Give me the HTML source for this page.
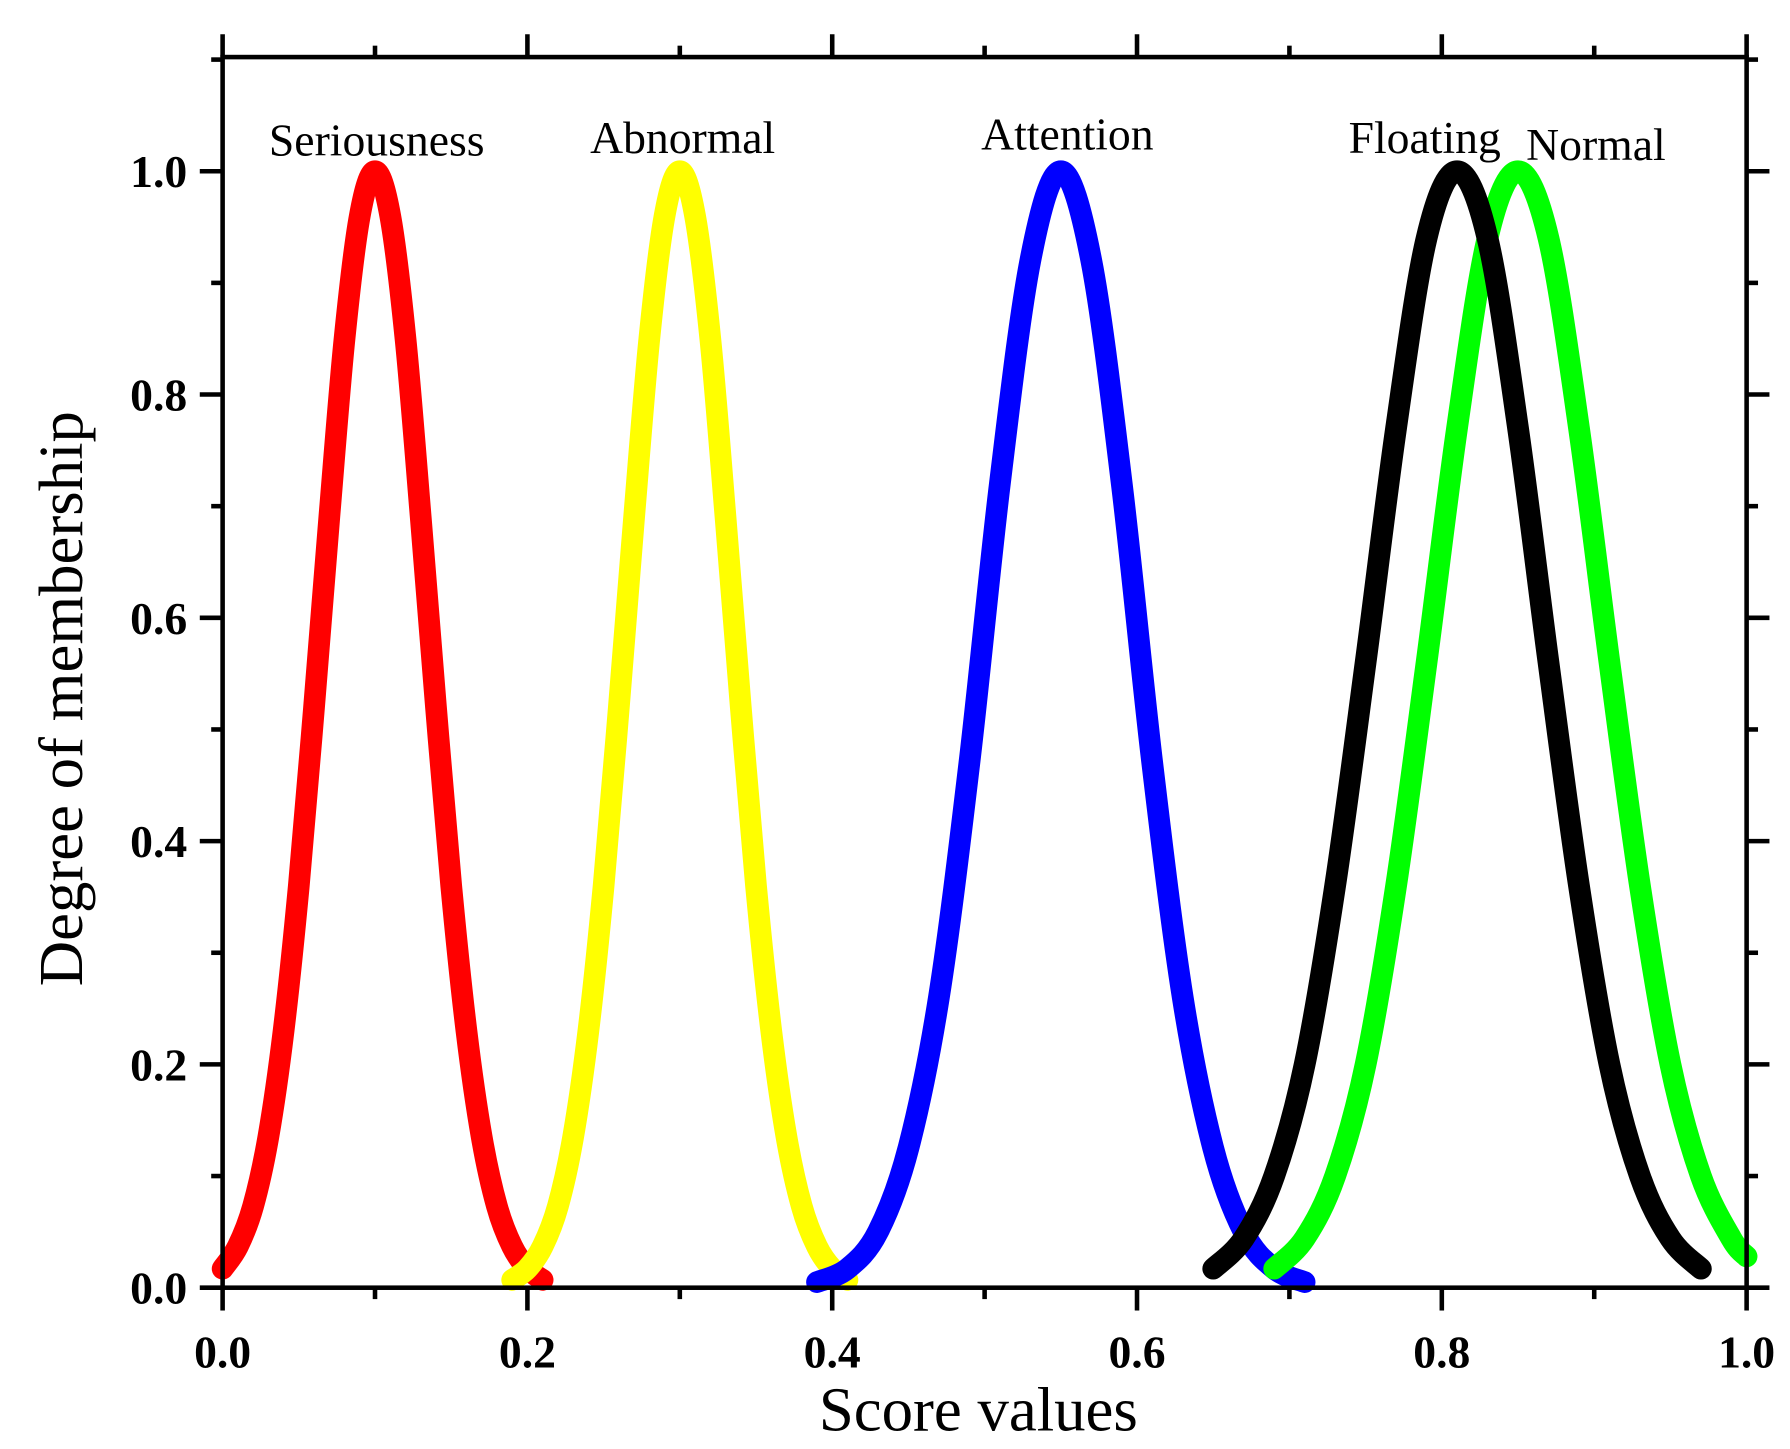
<!DOCTYPE html>
<html><head><meta charset="utf-8"><style>
html,body{margin:0;padding:0;background:#fff;}
svg{display:block;}
text{font-family:"Liberation Serif",serif;}
</style></head><body>
<svg id="chart" width="1790" height="1449" viewBox="0 0 1568 1269.3" xmlns="http://www.w3.org/2000/svg">
<g id="marks"></g>
<g id="axes"></g>
<text x="330" y="136" font-size="40" text-anchor="middle">Seriousness</text>
<text x="598" y="134" font-size="40" text-anchor="middle">Abnormal</text>
<text x="935" y="131" font-size="40" text-anchor="middle">Attention</text>
<text x="1248" y="134" font-size="40" text-anchor="middle">Floating</text>
<text x="1398" y="140" font-size="40" text-anchor="middle">Normal</text>
<text x="857" y="1253" font-size="55" text-anchor="middle">Score values</text>
<text transform="translate(72,612) rotate(-90)" font-size="55" text-anchor="middle">Degree of membership</text>
</svg>
<script>
const xTicks = [0.0, 0.2, 0.4, 0.6, 0.8, 1.0];
const xTickLabels = ["0.0","0.2","0.4","0.6","0.8","1.0"];
const yTicks = [0.0, 0.2, 0.4, 0.6, 0.8, 1.0];
const yTickLabels = ["0.0","0.2","0.4","0.6","0.8","1.0"];
const seriousX = [0.00,0.01,0.02,0.03,0.04,0.05,0.06,0.07,0.08,0.09,0.10,0.11,0.12,0.13,0.14,0.15,0.16,0.17,0.18,0.19,0.20,0.21];
const seriousY = [0.017,0.037,0.073,0.135,0.23,0.36,0.52,0.69,0.85,0.96,1.0,0.96,0.85,0.69,0.52,0.36,0.23,0.135,0.073,0.037,0.017,0.007];
const abnormalX = [0.19,0.20,0.21,0.22,0.23,0.24,0.25,0.26,0.27,0.28,0.29,0.30,0.31,0.32,0.33,0.34,0.35,0.36,0.37,0.38,0.39,0.40,0.41];
const abnormalY = [0.007,0.017,0.037,0.073,0.135,0.23,0.36,0.52,0.69,0.85,0.96,1.0,0.96,0.85,0.69,0.52,0.36,0.23,0.135,0.073,0.037,0.017,0.007];
const attentionX = [0.39,0.41,0.43,0.45,0.47,0.49,0.51,0.53,0.55,0.57,0.59,0.61,0.63,0.65,0.67,0.69,0.71];
const attentionY = [0.005,0.017,0.05,0.125,0.26,0.47,0.72,0.92,1.0,0.92,0.72,0.47,0.26,0.125,0.05,0.017,0.005];
const floatingX = [0.65,0.67,0.69,0.71,0.73,0.75,0.77,0.79,0.81,0.83,0.85,0.87,0.89,0.91,0.93,0.95,0.97];
const floatingY = [0.017,0.044,0.10,0.20,0.36,0.56,0.77,0.94,1.0,0.94,0.77,0.56,0.36,0.20,0.10,0.044,0.017];
const normalX = [0.69,0.71,0.73,0.75,0.77,0.79,0.81,0.83,0.85,0.87,0.89,0.91,0.93,0.95,0.97,0.99,1.0];
const normalY = [0.017,0.044,0.10,0.20,0.36,0.56,0.77,0.94,1.0,0.94,0.77,0.56,0.36,0.20,0.10,0.044,0.028];

const L=195,R=1530,B=1128,T=50;
function sx(v){return L+v*(R-L);}
function sy(v){return B-v*978;}
const NS="http://www.w3.org/2000/svg";
function mk(tag,attrs,parent){const e=document.createElementNS(NS,tag);for(const k in attrs)e.setAttribute(k,attrs[k]);parent.appendChild(e);return e;}
function smoothPath(P){
  let d=`M${P[0][0]},${P[0][1]}`;
  for(let i=0;i<P.length-1;i++){
    const p0=P[Math.max(0,i-1)],p1=P[i],p2=P[i+1],p3=P[Math.min(P.length-1,i+2)];
    const c1x=p1[0]+(p2[0]-p0[0])/6,c1y=p1[1]+(p2[1]-p0[1])/6;
    const c2x=p2[0]-(p3[0]-p1[0])/6,c2y=p2[1]-(p3[1]-p1[1])/6;
    d+=` C${c1x},${c1y} ${c2x},${c2y} ${p2[0]},${p2[1]}`;
  }
  return d;
}
const marks=document.getElementById('marks');
const axes=document.getElementById('axes');
const series=[
 {x:seriousX,y:seriousY,c:"#ff0000",m:"square"},
 {x:abnormalX,y:abnormalY,c:"#ffff00",m:"circle"},
 {x:attentionX,y:attentionY,c:"#0000ff",m:"up"},
 {x:normalX,y:normalY,c:"#00ff00",m:"down"},
 {x:floatingX,y:floatingY,c:"#000000",m:"left"}
];
const order=["seriousness","abnormal","attention","normal","floating"];
series.forEach((s,i)=>{
  const g=mk('g',{},marks);
  
  
  const P=s.x.map((v,j)=>[sx(v),sy(s.y[j])]);
  const pl=mk('path',{d:smoothPath(P),fill:'none',stroke:s.c,'stroke-width':19,'stroke-linejoin':'round','stroke-linecap':'round'},g);
  
  
  s.x.forEach((v,j)=>{
    const cx=sx(v),cy=sy(s.y[j]);let e;
    if(s.m==="square")e=mk('rect',{x:cx-4,y:cy-4,width:8,height:8,fill:s.c},g);
    else if(s.m==="circle")e=mk('circle',{cx:cx,cy:cy,r:4.5,fill:s.c},g);
    else if(s.m==="up")e=mk('polygon',{points:`${cx},${cy-5} ${cx-5},${cy+4} ${cx+5},${cy+4}`,fill:s.c},g);
    else if(s.m==="down")e=mk('polygon',{points:`${cx},${cy+5} ${cx-5},${cy-4} ${cx+5},${cy-4}`,fill:s.c},g);
    else e=mk('polygon',{points:`${cx-5},${cy} ${cx+4},${cy-5} ${cx+4},${cy+5}`,fill:s.c},g);
    
    
  });
});
const fr=mk('rect',{x:L,y:T,width:R-L,height:B-T,fill:'none',stroke:'#000','stroke-width':4},axes);


for(let k=0;k<=10;k++){
  const v=k/10,x=sx(v),len=(k%2===0)?20:10;
  const t1=mk('line',{x1:x,y1:B,x2:x,y2:B+len,stroke:'#000','stroke-width':4},axes);
  
  
  const t2=mk('line',{x1:x,y1:T,x2:x,y2:T-len,stroke:'#000','stroke-width':4},axes);
  
  
}
xTicks.forEach((v,i)=>{
  const t=mk('text',{x:sx(v),y:B+70,'font-size':40,'font-weight':'bold','text-anchor':'middle'},axes);
  t.textContent=xTickLabels[i];
  
  
});
for(let k=0;k<=11;k++){
  const v=k/10,y=sy(v),len=(k%2===0)?20:10;
  const t1=mk('line',{x1:L,y1:y,x2:L-len,y2:y,stroke:'#000','stroke-width':4},axes);
  
  
  const t2=mk('line',{x1:R,y1:y,x2:R+len,y2:y,stroke:'#000','stroke-width':4},axes);
  
  
}
yTicks.forEach((v,i)=>{
  const t=mk('text',{x:164,y:sy(v)+14,'font-size':40,'font-weight':'bold','text-anchor':'end'},axes);
  t.textContent=yTickLabels[i];
  
  
});
</script>
</body></html>
